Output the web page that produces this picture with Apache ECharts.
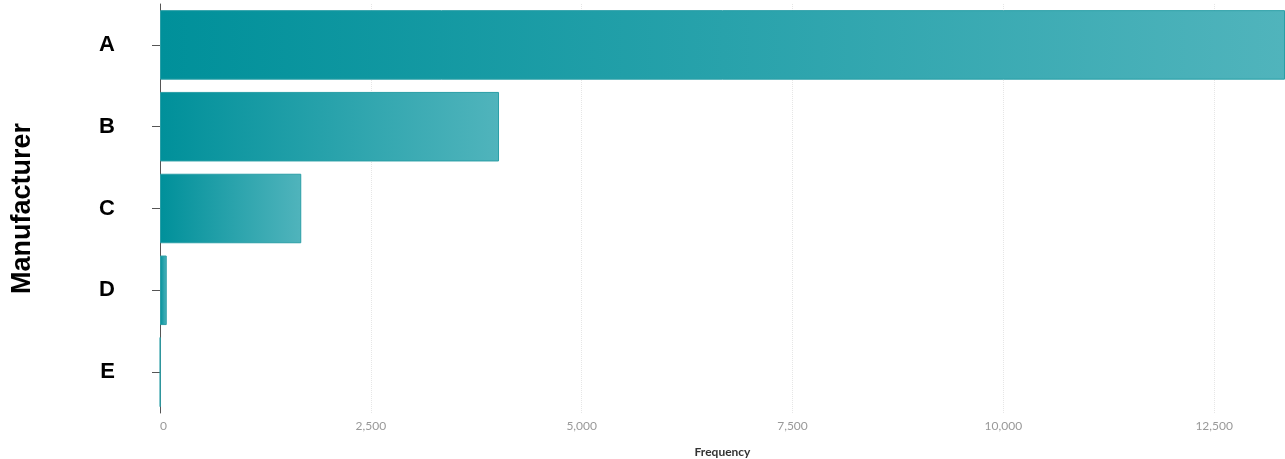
<!DOCTYPE html>
<html>
<head>
<meta charset="utf-8">
<script src="https://cdn.jsdelivr.net/npm/echarts@6/dist/echarts.min.js"></script>
<style>
  html, body { margin: 0; padding: 0; background: #fff; }
  #chart { width: 1285px; height: 459px; }
</style>
</head>
<body>
<div id="chart"></div>
<script>
// data
const manufacturers = ['A', 'B', 'C', 'D', 'E']
const frequencies = [13340, 4020, 1675, 80, 4]

const chart = echarts.init(document.getElementById('chart'), null, { renderer: 'canvas' })

chart.setOption({
  backgroundColor: '#fff',
  animation: false,
  grid: {
    left: 160,
    right: 0,
    top: 4,
    bottom: 46,
    containLabel: false,
    outerBoundsMode: 'none'
  },
  xAxis: {
    type: 'value',
    min: 0,
    max: 'dataMax',
    interval: 2500,
    name: 'Frequency',
    nameLocation: 'middle',
    nameGap: 33,
    nameTextStyle: { fontFamily: 'Lato', fontWeight: 'bold', fontSize: 12, color: '#333' },
    axisLine: { show: false },
    axisTick: { show: false },
    axisLabel: {
      fontFamily: 'Lato',
      fontSize: 12,
      color: '#999',
      margin: 7,
      showMaxLabel: false,
      alignMinLabel: 'left',
      formatter: v => v.toLocaleString('en-US')
    },
    splitLine: {
      show: true,
      lineStyle: { color: '#e6e6e6', type: 'dotted', width: 1 }
    }
  },
  yAxis: {
    type: 'category',
    data: manufacturers,
    inverse: true,
    name: 'Manufacturer',
    nameLocation: 'middle',
    nameGap: 124,
    nameTextStyle: { fontFamily: 'Liberation Sans', fontWeight: 'bold', fontSize: 27, color: '#000' },
    axisLine: { show: true, lineStyle: { color: '#555', width: 1 } },
    axisTick: { show: true, alignWithLabel: true, length: 8, lineStyle: { color: '#555' } },
    axisLabel: {
      fontFamily: 'Liberation Sans',
      fontWeight: 'bold',
      fontSize: 22,
      color: '#000',
      margin: 45
    }
  },
  series: [
    {
      type: 'bar',
      data: frequencies,
      barCategoryGap: '15%',
      itemStyle: {
        color: new echarts.graphic.LinearGradient(0, 0, 1, 0, [
          { offset: 0, color: '#00909a' },
          { offset: 1, color: '#50b4bc' }
        ]),
        borderColor: '#2a9ea6',
        borderWidth: 1
      }
    }
  ]
})
</script>
</body>
</html>
